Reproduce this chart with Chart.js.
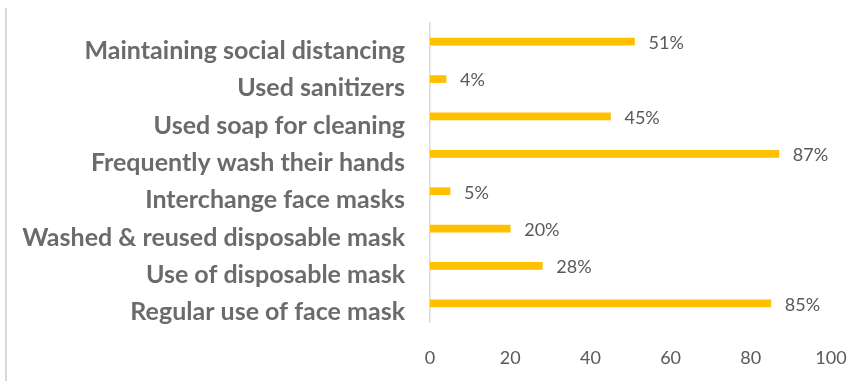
<!DOCTYPE html>
<html>
<head>
<meta charset="utf-8">
<script src="https://cdn.jsdelivr.net/npm/chart.js@4"></script>
<style>
  html, body { margin: 0; padding: 0; background: #fff; }
  #wrap { position: relative; width: 861px; height: 381px; }
</style>
</head>
<body>
<div id="wrap"><canvas id="grafica" width="861" height="381"></canvas></div>
<script>
const categorias = [
    'Maintaining social distancing',
    'Used sanitizers',
    'Used soap for cleaning',
    'Frequently wash their hands',
    'Interchange face masks',
    'Washed & reused disposable mask',
    'Use of disposable mask',
    'Regular use of face mask'
];
const porcentajes = [51, 4, 45, 87, 5, 20, 28, 85];
const ejeX = { min: 0, max: 100, paso: 20 };

const gris = '#595959';
const fuente = 'Lato, "Open Sans", sans-serif';

// etiquetas de valor al final de cada barra
const etiquetas = {
    id: 'etiquetas',
    afterDatasetsDraw(chart) {
        const ctx = chart.ctx;
        const meta = chart.getDatasetMeta(0);
        ctx.save();
        ctx.font = '18px ' + fuente;
        ctx.fillStyle = gris;
        ctx.textAlign = 'left';
        ctx.textBaseline = 'middle';
        meta.data.forEach((bar, i) => {
            ctx.fillText(porcentajes[i] + '%', bar.x + 14, bar.y + 1.5);
        });
        ctx.restore();
    }
};

// linea gris del borde izquierdo
const borde = {
    id: 'borde',
    beforeDraw(chart) {
        const ctx = chart.ctx;
        ctx.save();
        ctx.strokeStyle = '#d9d9d9';
        ctx.lineWidth = 2;
        ctx.beginPath();
        ctx.moveTo(6, 8);
        ctx.lineTo(6, chart.height);
        ctx.stroke();
        ctx.restore();
    }
};

const ctx = document.getElementById('grafica').getContext('2d');
const chart = new Chart(ctx, {
    type: 'bar',
    data: {
        labels: categorias,
        datasets: [{
            data: porcentajes,
            backgroundColor: '#FFC000',
            barThickness: 7
        }]
    },
    options: {
        indexAxis: 'y',
        responsive: false,
        animation: false,
        layout: { padding: { top: 23, right: 30, bottom: 12, left: 0 } },
        plugins: {
            legend: { display: false },
            tooltip: { enabled: false }
        },
        scales: {
            x: {
                min: ejeX.min,
                max: ejeX.max,
                afterFit(scale) {
                    scale.height = 47;
                    scale.paddingLeft = 0;
                    scale.paddingRight = 0;
                },
                ticks: {
                    stepSize: ejeX.paso,
                    padding: 25,
                    color: gris,
                    font: { family: fuente, size: 18 }
                },
                grid: { display: false, drawTicks: false },
                border: { display: false }
            },
            y: {
                afterFit(scale) {
                    scale.width = 430;
                    scale.paddingTop = 0;
                    scale.paddingBottom = 0;
                },
                ticks: {
                    padding: 25,
                    labelOffset: 9,
                    color: '#6b6b6b',
                    font: { family: fuente, size: 25, weight: 'bold' }
                },
                grid: { display: false, drawTicks: false },
                border: { display: true, color: '#d9d9d9', width: 1.5 }
            }
        }
    },
    plugins: [etiquetas, borde]
});
</script>
</body>
</html>
